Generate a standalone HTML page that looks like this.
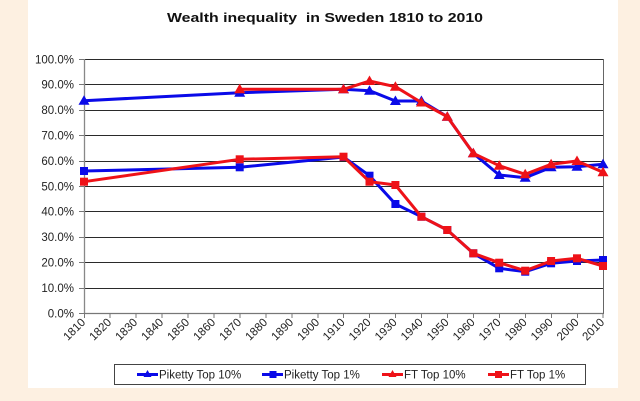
<!DOCTYPE html>
<html><head><meta charset="utf-8"><style>
html,body{margin:0;padding:0;background:#fdf0e1;}
svg{display:block;font-family:"Liberation Sans",Arial,sans-serif;}
</style></head><body>
<svg width="640" height="401" viewBox="0 0 640 401" xmlns="http://www.w3.org/2000/svg">
<defs>
<path id="tb" d="M0,-5.5 L5.5,4 L-5.5,4Z" fill="#0a0ae8"/>
<path id="tr" d="M0,-5.5 L5.5,4 L-5.5,4Z" fill="#ee1218"/>
<rect id="sb" x="-4" y="-4" width="8" height="8" fill="#0a0ae8"/>
<rect id="sr" x="-4" y="-4" width="8" height="8" fill="#ee1218"/>
</defs>
<rect x="0" y="0" width="640" height="401" fill="#fdf0e1"/>
<rect x="28" y="0" width="590" height="388" fill="#ffffff"/>
<text x="325" y="22" text-anchor="middle" font-size="13" font-weight="bold" fill="#111" textLength="316" lengthAdjust="spacingAndGlyphs" xml:space="preserve">Wealth inequality  in Sweden 1810 to 2010</text>
<!-- grid -->
<g stroke="#2a2a2a" stroke-width="1">
<line x1="84" y1="59.5" x2="603" y2="59.5"/>
<line x1="84" y1="84.5" x2="603" y2="84.5"/>
<line x1="84" y1="110.5" x2="603" y2="110.5"/>
<line x1="84" y1="135.5" x2="603" y2="135.5"/>
<line x1="84" y1="161.5" x2="603" y2="161.5"/>
<line x1="84" y1="186.5" x2="603" y2="186.5"/>
<line x1="84" y1="211.5" x2="603" y2="211.5"/>
<line x1="84" y1="237.5" x2="603" y2="237.5"/>
<line x1="84" y1="262.5" x2="603" y2="262.5"/>
<line x1="84" y1="288.5" x2="603" y2="288.5"/>
</g>
<line x1="603.5" y1="59" x2="603.5" y2="314" stroke="#666" stroke-width="1"/>
<line x1="84.5" y1="59" x2="84.5" y2="314" stroke="#888" stroke-width="1.3"/>
<line x1="84" y1="313.5" x2="603" y2="313.5" stroke="#777" stroke-width="1.3"/>
<!-- y ticks -->
<g stroke="#777" stroke-width="1">
<line x1="79" y1="59.5" x2="84" y2="59.5"/><line x1="79" y1="84.5" x2="84" y2="84.5"/>
<line x1="79" y1="110.5" x2="84" y2="110.5"/><line x1="79" y1="135.5" x2="84" y2="135.5"/>
<line x1="79" y1="161.5" x2="84" y2="161.5"/><line x1="79" y1="186.5" x2="84" y2="186.5"/>
<line x1="79" y1="211.5" x2="84" y2="211.5"/><line x1="79" y1="237.5" x2="84" y2="237.5"/>
<line x1="79" y1="262.5" x2="84" y2="262.5"/><line x1="79" y1="288.5" x2="84" y2="288.5"/>
<line x1="79" y1="313.5" x2="84" y2="313.5"/>
</g>
<g font-size="11.5" fill="#222" text-anchor="end">
<text x="74" y="63.5">100.0%</text>
<text x="74" y="88.5">90.0%</text>
<text x="74" y="114">80.0%</text>
<text x="74" y="139.5">70.0%</text>
<text x="74" y="165">60.0%</text>
<text x="74" y="190.5">50.0%</text>
<text x="74" y="215.5">40.0%</text>
<text x="74" y="241">30.0%</text>
<text x="74" y="266.5">20.0%</text>
<text x="74" y="292">10.0%</text>
<text x="74" y="317.5">0.0%</text>
</g>
<!-- x ticks -->
<g stroke="#777" stroke-width="1">
<line x1="84.5" y1="313" x2="84.5" y2="318"/><line x1="110" y1="313" x2="110" y2="318"/>
<line x1="136" y1="313" x2="136" y2="318"/><line x1="162" y1="313" x2="162" y2="318"/>
<line x1="188" y1="313" x2="188" y2="318"/><line x1="214" y1="313" x2="214" y2="318"/>
<line x1="240" y1="313" x2="240" y2="318"/><line x1="266" y1="313" x2="266" y2="318"/>
<line x1="292" y1="313" x2="292" y2="318"/><line x1="318" y1="313" x2="318" y2="318"/>
<line x1="343.5" y1="313" x2="343.5" y2="318"/><line x1="369.5" y1="313" x2="369.5" y2="318"/>
<line x1="395.5" y1="313" x2="395.5" y2="318"/><line x1="421.5" y1="313" x2="421.5" y2="318"/>
<line x1="447.5" y1="313" x2="447.5" y2="318"/><line x1="473.5" y1="313" x2="473.5" y2="318"/>
<line x1="499.5" y1="313" x2="499.5" y2="318"/><line x1="525.5" y1="313" x2="525.5" y2="318"/>
<line x1="551.5" y1="313" x2="551.5" y2="318"/><line x1="577.5" y1="313" x2="577.5" y2="318"/>
<line x1="603" y1="313" x2="603" y2="318"/>
</g>
<g font-size="11.5" fill="#222" text-anchor="end">
<text transform="translate(86,323) rotate(-45)">1810</text>
<text transform="translate(112,323) rotate(-45)">1820</text>
<text transform="translate(138,323) rotate(-45)">1830</text>
<text transform="translate(164,323) rotate(-45)">1840</text>
<text transform="translate(190,323) rotate(-45)">1850</text>
<text transform="translate(216,323) rotate(-45)">1860</text>
<text transform="translate(242,323) rotate(-45)">1870</text>
<text transform="translate(268,323) rotate(-45)">1880</text>
<text transform="translate(294,323) rotate(-45)">1890</text>
<text transform="translate(320,323) rotate(-45)">1900</text>
<text transform="translate(345.5,323) rotate(-45)">1910</text>
<text transform="translate(371.5,323) rotate(-45)">1920</text>
<text transform="translate(397.5,323) rotate(-45)">1930</text>
<text transform="translate(423.5,323) rotate(-45)">1940</text>
<text transform="translate(449.5,323) rotate(-45)">1950</text>
<text transform="translate(475.5,323) rotate(-45)">1960</text>
<text transform="translate(501.5,323) rotate(-45)">1970</text>
<text transform="translate(527.5,323) rotate(-45)">1980</text>
<text transform="translate(553.5,323) rotate(-45)">1990</text>
<text transform="translate(579.5,323) rotate(-45)">2000</text>
<text transform="translate(605,323) rotate(-45)">2010</text>
</g>
<!-- Piketty Top 10% -->
<polyline fill="none" stroke="#0a0ae8" stroke-width="3" stroke-linejoin="round" points="84,100.7 239.7,92.7 343.5,89.3 369.5,90.7 395.4,101 421.4,101 447.3,116.7 473.3,153.3 499.2,175 525.2,177.7 551.1,167.3 577,166.7 603,164.3"/>
<g>
<use href="#tb" x="84" y="100.7"/><use href="#tb" x="239.7" y="92.7"/><use href="#tb" x="343.5" y="89.3"/>
<use href="#tb" x="369.5" y="90.7"/><use href="#tb" x="395.4" y="101"/><use href="#tb" x="421.4" y="101"/>
<use href="#tb" x="447.3" y="116.7"/><use href="#tb" x="473.3" y="153.3"/><use href="#tb" x="499.2" y="175"/>
<use href="#tb" x="525.2" y="177.7"/><use href="#tb" x="551.1" y="167.3"/><use href="#tb" x="577" y="166.7"/>
<use href="#tb" x="603" y="164.3"/>
</g>
<!-- Piketty Top 1% -->
<polyline fill="none" stroke="#0a0ae8" stroke-width="3" stroke-linejoin="round" points="84,171 239.7,167.3 343.5,157 369.5,175.7 395.4,204 421.4,216.7 447.3,230 473.3,253.3 499.2,268.3 525.2,271.7 551.1,263.3 577,261 603,260"/>
<g>
<use href="#sb" x="84" y="171"/><use href="#sb" x="239.7" y="167.3"/><use href="#sb" x="343.5" y="157"/>
<use href="#sb" x="369.5" y="175.7"/><use href="#sb" x="395.4" y="204"/><use href="#sb" x="421.4" y="216.7"/>
<use href="#sb" x="447.3" y="230"/><use href="#sb" x="473.3" y="253.3"/><use href="#sb" x="499.2" y="268.3"/>
<use href="#sb" x="525.2" y="271.7"/><use href="#sb" x="551.1" y="263.3"/><use href="#sb" x="577" y="261"/>
<use href="#sb" x="603" y="260"/>
</g>
<!-- FT Top 10% -->
<polyline fill="none" stroke="#ee1218" stroke-width="3" stroke-linejoin="round" points="239.7,89.3 343.5,89.3 369.5,81 395.4,86.7 421.4,102.5 447.3,116.7 473.3,153.3 499.2,165.7 525.2,174.3 551.1,164.3 577,161 603,172.3"/>
<g>
<use href="#tr" x="239.7" y="89.3"/><use href="#tr" x="343.5" y="89.3"/><use href="#tr" x="369.5" y="81"/>
<use href="#tr" x="395.4" y="86.7"/><use href="#tr" x="421.4" y="102.5"/><use href="#tr" x="447.3" y="116.7"/>
<use href="#tr" x="473.3" y="153.3"/><use href="#tr" x="499.2" y="165.7"/><use href="#tr" x="525.2" y="174.3"/>
<use href="#tr" x="551.1" y="164.3"/><use href="#tr" x="577" y="161"/><use href="#tr" x="603" y="172.3"/>
</g>
<!-- FT Top 1% -->
<polyline fill="none" stroke="#ee1218" stroke-width="3" stroke-linejoin="round" points="84,181.7 239.7,159.3 343.5,156.7 369.5,181.7 395.4,185 421.4,216.7 447.3,230 473.3,253.3 499.2,262.7 525.2,270.7 551.1,261 577,258.3 603,266"/>
<g>
<use href="#sr" x="84" y="181.7"/><use href="#sr" x="239.7" y="159.3"/><use href="#sr" x="343.5" y="156.7"/>
<use href="#sr" x="369.5" y="181.7"/><use href="#sr" x="395.4" y="185"/><use href="#sr" x="421.4" y="216.7"/>
<use href="#sr" x="447.3" y="230"/><use href="#sr" x="473.3" y="253.3"/><use href="#sr" x="499.2" y="262.7"/>
<use href="#sr" x="525.2" y="270.7"/><use href="#sr" x="551.1" y="261"/><use href="#sr" x="577" y="258.3"/>
<use href="#sr" x="603" y="266"/>
</g>
<!-- legend -->
<rect x="114.5" y="364.5" width="471" height="20" fill="#fff" stroke="#444" stroke-width="1"/>
<line x1="137" y1="374.5" x2="158" y2="374.5" stroke="#0a0ae8" stroke-width="3"/>
<path d="M147.5,370 L151.5,377 L143.5,377Z" fill="#0a0ae8"/>
<line x1="262" y1="374.5" x2="283" y2="374.5" stroke="#0a0ae8" stroke-width="3"/>
<rect x="269.5" y="371" width="7" height="7" fill="#0a0ae8"/>
<line x1="382" y1="374.5" x2="403" y2="374.5" stroke="#ee1218" stroke-width="3"/>
<path d="M392.5,370 L396.5,377 L388.5,377Z" fill="#ee1218"/>
<line x1="488" y1="374.5" x2="509" y2="374.5" stroke="#ee1218" stroke-width="3"/>
<rect x="495" y="371" width="7" height="7" fill="#ee1218"/>
<g font-size="11.5" fill="#222">
<text x="159" y="378.5">Piketty Top 10%</text>
<text x="284" y="378.5">Piketty Top 1%</text>
<text x="404" y="378.5">FT Top 10%</text>
<text x="510" y="378.5">FT Top 1%</text>
</g>
</svg>
</body></html>
